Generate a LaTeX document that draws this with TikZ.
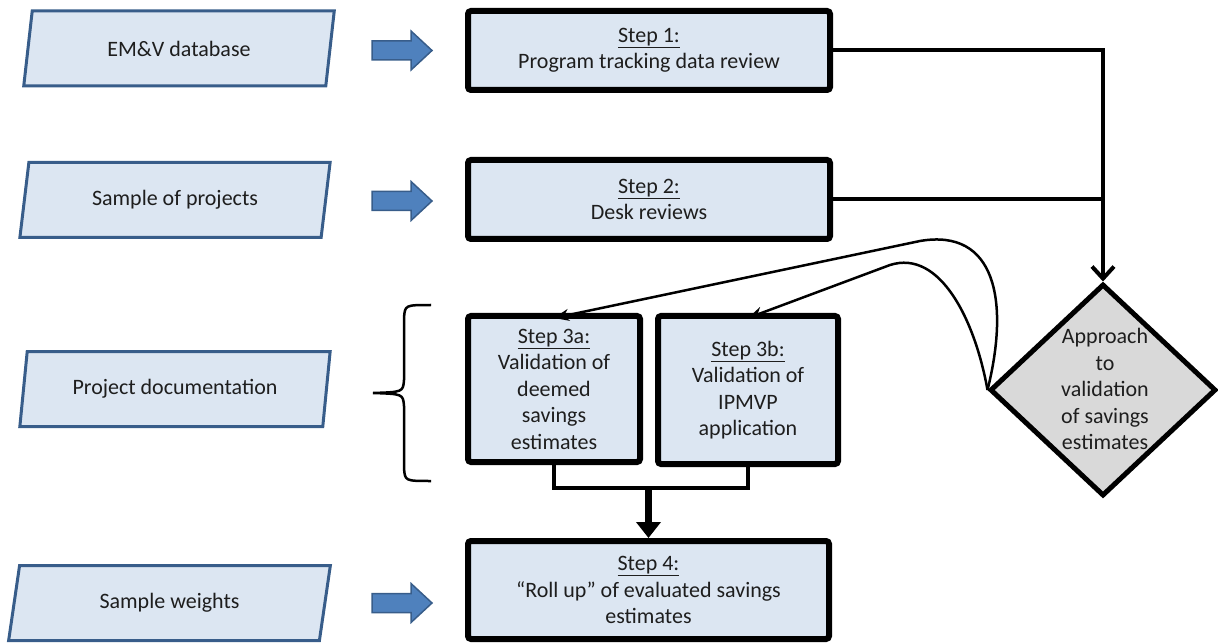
\documentclass[tikz,border=0pt]{standalone}
\usepackage{fontspec}
\setmainfont{Carlito}
\usetikzlibrary{shapes.geometric,arrows.meta,calc}
\definecolor{boxfill}{RGB}{220,230,242}
\definecolor{pborder}{RGB}{56,93,138}
\definecolor{arrowfill}{RGB}{79,129,189}
\definecolor{dfill}{RGB}{217,217,217}
\definecolor{txt}{RGB}{30,30,30}
\begin{document}
\begin{tikzpicture}[x=1pt,y=-1pt,
  every node/.style={font=\fontsize{22}{26.5}\selectfont, text=txt, align=center, inner sep=0pt},
  stepbox/.style={rectangle, draw=black, line width=6pt, fill=boxfill, rounded corners=3pt},
  para/.style={trapezium, trapezium left angle=75, trapezium right angle=105, trapezium stretches=true,
    draw=pborder, line width=3pt, fill=boxfill, minimum height=75pt},
  blockarr/.style={fill=arrowfill, draw=pborder, line width=1.5pt, line join=miter},
  conn/.style={line width=4pt, black},
  curvy/.style={line width=2.5pt, black, -{Stealth[length=15pt,width=12pt]}},
  bracestyle/.style={line width=2.5pt, black},
]
\useasboundingbox (0,0) rectangle (1218,644);

% input parallelograms
\node[para, minimum width=311pt] (p1) at (179,48.5) {EM\&V database};
\node[para, minimum width=311pt] (p2) at (175,200) {Sample of projects};
\node[para, minimum width=311pt] (p3) at (175,389) {Project documentation};
\node[para, minimum width=322pt] (p4) at (169.5,603) {Sample weights};

% block arrows
\foreach \yy in {50.5,201,603}{
  \draw[blockarr] (372,\yy-9.5) -- (411,\yy-9.5) -- (411,\yy-19.5) -- (432,\yy) -- (411,\yy+19.5)
    -- (411,\yy+9.5) -- (372,\yy+9.5) -- cycle;
}

% step boxes
\node[stepbox, minimum width=362pt, minimum height=79pt] (s1) at (649,50.5)
  {\underline{Step 1:}\\Program tracking data review};
\node[stepbox, minimum width=362pt, minimum height=79pt] (s2) at (649,199.5)
  {\underline{Step 2:}\\Desk reviews};
\node[stepbox, minimum width=172pt, minimum height=146pt] (s3a) at (554,389)
  {\underline{Step 3a:}\\Validation of\\deemed\\savings\\estimates};
\node[stepbox, minimum width=180pt, minimum height=148pt] (s3b) at (748,390)
  {\underline{Step 3b:}\\Validation of\\IPMVP\\application};
\node[stepbox, minimum width=361pt, minimum height=98pt] (s4) at (648.5,590)
  {\underline{Step 4:}\\“Roll up” of evaluated savings\\estimates};

% diamond
\node[diamond, draw=black, line width=5pt, fill=dfill, minimum width=226pt, minimum height=212pt] (d) at (1103,390) {};
\node (dt) at (1105,389) {Approach\\to\\validation\\of savings\\estimates};

% connectors to diamond
\draw[conn, -{Straight Barb[length=12pt,width=22pt]}] (s1.east) -| (d.north);
\draw[conn] (s2.east) -- (s2.east -| d.north);

% curves from diamond
\draw[curvy] (d.west) .. controls (1010,300) and (995,228) .. (920,241) -- ([yshift=-5pt]s3a.north);
\draw[curvy] (d.west) .. controls (975,320) and (940,249) .. (890,265) -- ([yshift=-5pt]s3b.north);

% merge of step 3a / 3b
\draw[conn, line width=3.5pt] (s3a.south) -- ++(0,23) coordinate (j1) -| (s3b.south);
\draw[line width=7pt, -{Triangle[length=16pt,width=24pt]}] (s4.north |- j1) -- (s4.north);

% brace
\draw[bracestyle] (431,305) .. controls (405,305) .. (404,318) -- (404,380)
  .. controls (403,392) .. (373,393) .. controls (403,394) .. (404,406) -- (404,468)
  .. controls (405,481) .. (431,481);
\end{tikzpicture}
\end{document}
